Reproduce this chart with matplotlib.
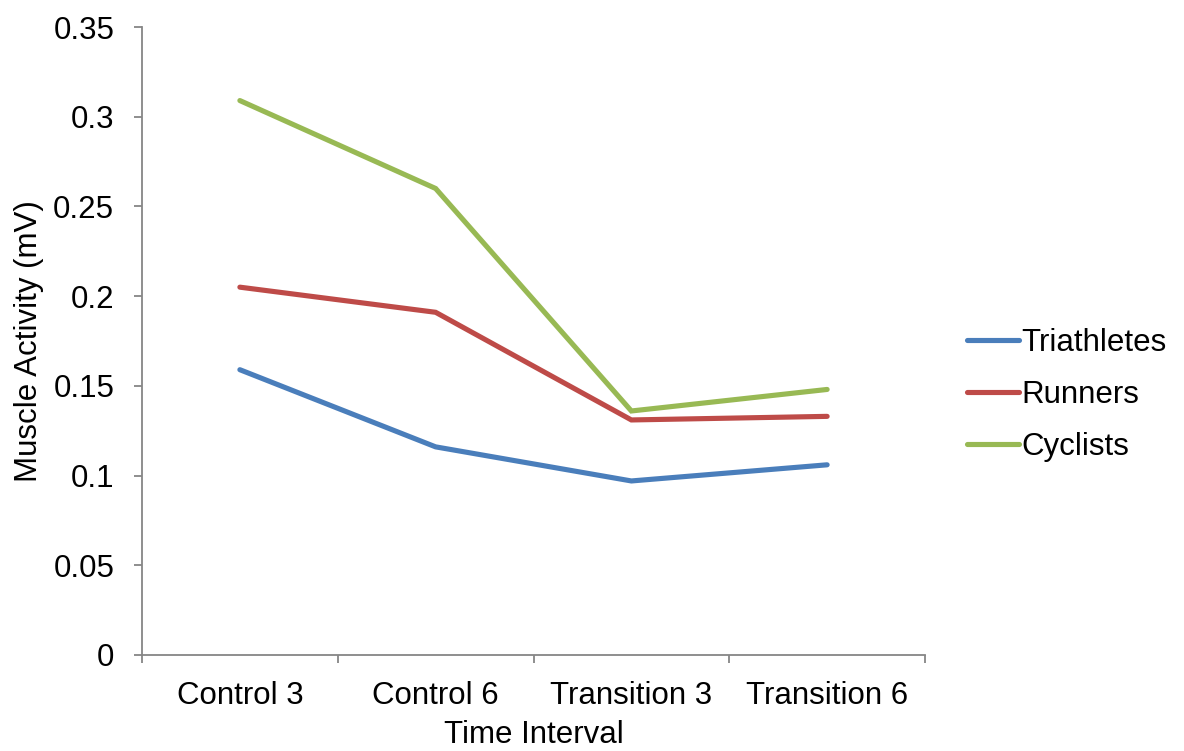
import matplotlib
matplotlib.use("Agg")
import matplotlib.pyplot as plt
from matplotlib.ticker import FixedLocator, FuncFormatter

categories = ["Control 3", "Control 6", "Transition 3", "Transition 6"]
triathletes = [0.159, 0.116, 0.097, 0.106]
runners = [0.205, 0.191, 0.131, 0.133]
cyclists = [0.309, 0.260, 0.136, 0.148]
series_names = ["Triathletes", "Runners", "Cyclists"]
y_ticks = [0, 0.05, 0.1, 0.15, 0.2, 0.25, 0.3, 0.35]

colors = ["#4A7EBB", "#BE4B48", "#98B954"]
axis_gray = "#868686"

plt.rcParams["font.family"] = ["Liberation Sans", "DejaVu Sans"]
FS = 22.5

fig = plt.figure(figsize=(11.84, 7.51), dpi=100)
ax = fig.add_axes([142 / 1184, 1 - 655 / 751, (925 - 142) / 1184, (655 - 27) / 751])

x = list(range(len(categories)))
for vals, name, c in zip([triathletes, runners, cyclists], series_names, colors):
    ax.plot(x, vals, color=c, lw=3.7, label=name, solid_capstyle="round",
            solid_joinstyle="miter")

ax.set_xlim(-0.5, len(categories) - 0.5)
ax.set_ylim(0, 0.35)

# category labels centred, tick marks on category boundaries
ax.set_xticks(x)
ax.set_xticklabels(categories, fontsize=FS)
ax.tick_params(axis="x", which="major", length=0, pad=19)
ax.xaxis.set_minor_locator(FixedLocator([i - 0.5 for i in range(len(categories) + 1)]))
ax.tick_params(axis="x", which="minor", length=6, width=1.3, color=axis_gray, direction="out")

ax.set_yticks(y_ticks)
ax.yaxis.set_major_formatter(FuncFormatter(lambda v, p: "0" if v == 0 else f"{v:g}"))
ax.tick_params(axis="y", length=6, width=1.3, color=axis_gray, labelsize=FS, pad=14)

for s in ["top", "right"]:
    ax.spines[s].set_visible(False)
for s in ["left", "bottom"]:
    ax.spines[s].set_color(axis_gray)
    ax.spines[s].set_linewidth(1.3)

ax.set_ylabel("Muscle Activity (mV)", fontsize=FS, labelpad=7)
ax.set_xlabel("Time Interval", fontsize=FS, labelpad=6.5)

leg = fig.legend(loc="center left", bbox_to_anchor=(967 / 1184, 1 - 395 / 751),
                 bbox_transform=fig.transFigure, frameon=False,
                 fontsize=FS, handlelength=1.65, handletextpad=0.1,
                 labelspacing=0.7, borderpad=0, borderaxespad=0)

fig.savefig("out.png", dpi=100, facecolor="white")
